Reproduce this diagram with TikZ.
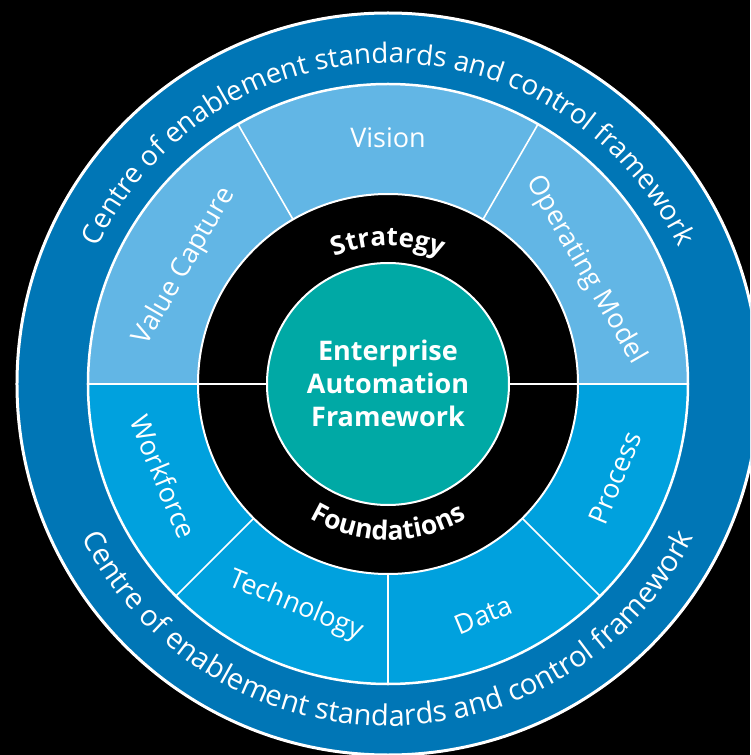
\documentclass[tikz,border=0pt]{standalone}
\usepackage{fontspec}
\setmainfont{Open Sans}
\usetikzlibrary{decorations.text}
\definecolor{outerblue}{RGB}{0,118,182}
\definecolor{lightblue}{RGB}{98,182,229}
\definecolor{midblue}{RGB}{0,161,222}
\definecolor{tealc}{RGB}{0,169,165}
\tikzset{
  seglabel/.style={text=white, font=\fontsize{27}{32}\selectfont, inner sep=0pt},
  divider/.style={white, line width=1.6pt},
  ringedge/.style={white, line width=2.5pt},
}
\begin{document}
\begin{tikzpicture}[x=1pt,y=1pt]
\useasboundingbox (-388,-371) rectangle (362,384);
\clip (-388,-371) rectangle (362,384);
\fill[black] (-388,-371) rectangle (362,384);
% outer ring
\draw[ringedge, line width=3pt, fill=outerblue] (0,0) circle (371);
% segment halves
\fill[lightblue] (0,0) -- (0:300) arc (0:180:300) -- cycle;
\fill[midblue] (0,0) -- (180:300) arc (180:360:300) -- cycle;
\draw[ringedge] (0,0) circle (300);
% dividers
\foreach \a in {60,120,225,270,315} \draw[divider] (\a:190) -- (\a:300);
% black ring
\draw[white, line width=2pt, fill=black] (0,0) circle (190);
\draw[ringedge] (180:300) -- (0:300);
% centre
\draw[white, line width=2pt, fill=tealc] (0,0) circle (121);
\node[align=center, text=white, font=\bfseries\fontsize{27}{33}\selectfont] (centre) at (0,1) {Enterprise\\Automation\\Framework};
% curved texts
\path[decorate, decoration={text along path, text align=center, text color=white,
  text={|\fontsize{27.8}{32}\selectfont|Centre of enablement standards and control framework}}]
  (180:321) arc (180:0:321);
\path[decorate, decoration={text along path, text align=center, text color=white,
  text={|\fontsize{29}{32}\selectfont|Centre of enablement standards and control framework}}]
  (182:342) arc (182:358:342);
\path[decorate, decoration={text along path, text align=center, text color=white,
  text={|\bfseries\fontsize{26}{32}\selectfont|Strategy}}]
  (180:138) arc (180:0:138);
\path[decorate, decoration={text along path, text align=center, text color=white,
  text={|\bfseries\fontsize{26.5}{32}\selectfont|Foundations}}]
  (180:156) arc (180:360:156);
% segment labels
\node[seglabel] (vision) at (90:246) {Vision};
\node[seglabel, rotate=60] (value) at (150:235) {Value Capture};
\node[seglabel, rotate=-60] (opmodel) at (30:228) {Operating Model};
\node[seglabel, rotate=-67.5] (workforce) at (202.5:243) {Workforce};
\node[seglabel, rotate=-22.5] (technology) at (247.5:240) {Technology};
\node[seglabel, rotate=22.5] (data) at (292.5:250) {Data};
\node[seglabel, rotate=67.5] (process) at (337.5:246) {Process};
\end{tikzpicture}
\end{document}
